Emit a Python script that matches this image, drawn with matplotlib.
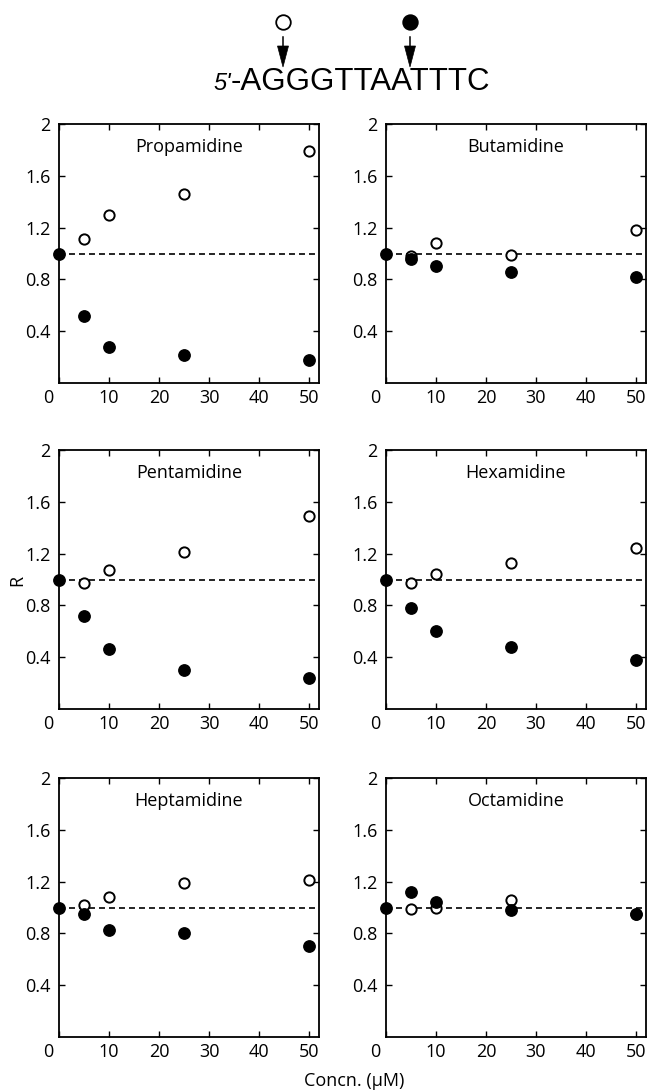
import matplotlib
matplotlib.use("Agg")
import matplotlib.pyplot as plt
from matplotlib.patches import Polygon
from matplotlib.transforms import ScaledTranslation

# концентрації (мкМ)
conc = [0, 5, 10, 25, 50]
conc_open = [5, 10, 25, 50]

drugs = ["Propamidine", "Butamidine", "Pentamidine",
         "Hexamidine", "Heptamidine", "Octamidine"]

# відкриті кружки (сайт G)
open_R = [
    [1.11, 1.30, 1.46, 1.79],
    [0.98, 1.08, 0.99, 1.18],
    [0.97, 1.07, 1.21, 1.49],
    [0.97, 1.04, 1.13, 1.24],
    [1.02, 1.08, 1.19, 1.21],
    [0.99, 1.00, 1.06, 0.95],
]

# зафарбовані кружки (сайт A)
filled_R = [
    [1.0, 0.52, 0.28, 0.22, 0.18],
    [1.0, 0.96, 0.90, 0.86, 0.82],
    [1.0, 0.72, 0.46, 0.30, 0.24],
    [1.0, 0.78, 0.60, 0.48, 0.38],
    [1.0, 0.95, 0.83, 0.80, 0.70],
    [1.0, 1.12, 1.04, 0.98, 0.95],
]

yticks = [0.4, 0.8, 1.2, 1.6, 2.0]
ytick_labels = ["0.4", "0.8", "1.2", "1.6", "2"]
xticks = [0, 10, 20, 30, 40, 50]

W, H = 649, 1091
FONT = ["Open Sans", "DejaVu Sans"]
plt.rcParams["font.family"] = FONT
plt.rcParams["lines.scale_dashes"] = False

fig = plt.figure(figsize=(W / 100, H / 100), dpi=100)

lefts = [59, 386]
tops = [124, 450, 778]
aw, ah = 260, 259

for i, name in enumerate(drugs):
    row, col = divmod(i, 2)
    left = lefts[col] / W
    bottom = (H - tops[row] - ah) / H
    ax = fig.add_axes([left, bottom, aw / W, ah / H])

    ax.axhline(1.0, color="black", lw=1.2, dashes=(4.3, 2.9), zorder=1)
    ax.plot(conc_open, open_R[i], "o", ms=7.4, mfc="white", mec="black",
            mew=1.4, ls="none", clip_on=False, zorder=2)
    ax.plot(conc, filled_R[i], "o", ms=8.2, mfc="black", mec="black",
            ls="none", clip_on=False, zorder=3)

    ax.set_xlim(0, 52)
    ax.set_ylim(0, 2)
    ax.set_xticks(xticks)
    ax.set_xticklabels([str(x) for x in xticks])
    ax.set_yticks(yticks)
    ax.set_yticklabels(ytick_labels)
    ax.tick_params(direction="in", top=True, right=True, length=4.5,
                   width=1, labelsize=13, color="black")
    ax.tick_params(axis="x", pad=4)
    ax.tick_params(axis="y", pad=6)
    for sp in ax.spines.values():
        sp.set_linewidth(1.3)

    # нуль зсунутий у кут
    lab0 = ax.get_xticklabels()[0]
    lab0.set_transform(lab0.get_transform() +
                       ScaledTranslation(-11 / 100, 0, fig.dpi_scale_trans))

    ax.text(0.5, 0.91, name, transform=ax.transAxes, ha="center",
            va="center", fontsize=13)

# підписи осей
fig.text(17 / W, 1 - 580 / H, "R", rotation=90, ha="center", va="center",
         fontsize=13)
fig.text(354 / W, 1 - 1081 / H, "Concn. (\u00b5M)", ha="center",
         va="center", fontsize=13)

# послідовність зверху
fig.text(231 / W, 1 - 90 / H, "5'", style="italic", ha="right",
         va="baseline", fontsize=17, family=["Liberation Sans", "DejaVu Sans"])
fig.text(231 / W, 1 - 90 / H, "-AGGGTTAATTTC", ha="left", va="baseline",
         fontsize=22.5, family=["Liberation Sans", "DejaVu Sans"])

over = fig.add_axes([0, 0, 1, 1])
over.set_xlim(0, W)
over.set_ylim(H, 0)
over.axis("off")
site_x = [283, 410]
site_face = ["white", "black"]
for sx, fc in zip(site_x, site_face):
    over.plot([sx], [22], "o", ms=10.5, mfc=fc, mec="black", mew=1.3)
    over.plot([sx, sx], [37, 48], color="black", lw=1.1)
    over.add_patch(Polygon([(sx - 5.5, 46), (sx + 5.5, 46), (sx, 67)],
                           closed=True, fc="black", ec="black", lw=0.5))

fig.savefig("out.png", dpi=100)
